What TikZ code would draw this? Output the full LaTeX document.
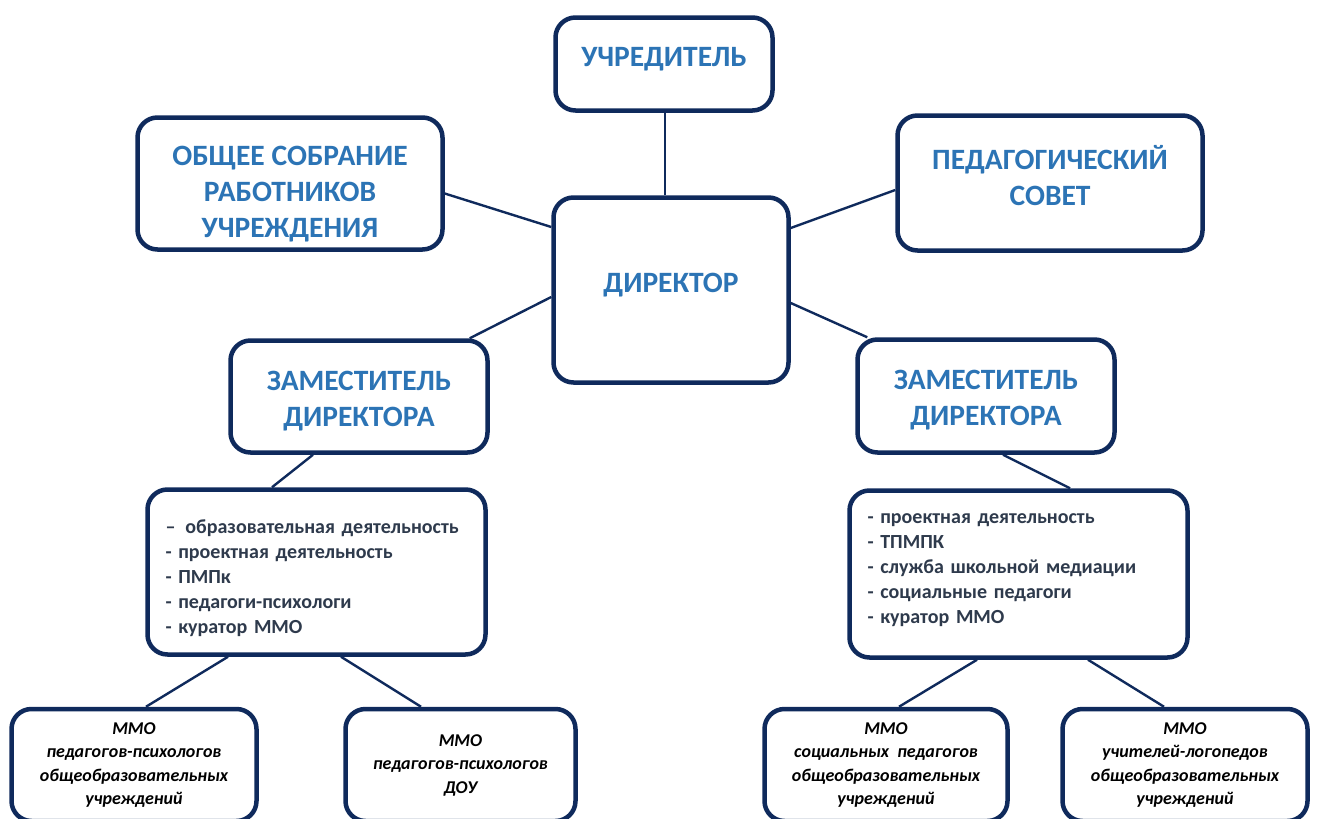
\documentclass[tikz,border=0pt]{standalone}
\usepackage{fontspec}
\setmainfont{Carlito}
\definecolor{ramka}{HTML}{0F2A5C}
\definecolor{zagolovok}{HTML}{2C74B5}
\definecolor{spisok}{HTML}{2E3A4C}
% podporki dlya sdviga teksta vniz / vverkh
\newcommand{\podpVerh}[1]{\rule{0pt}{#1}}
\newcommand{\podpNiz}[1]{\rule[-#1]{0pt}{#1}}

\begin{document}
\begin{tikzpicture}[x=1pt,y=-1pt,
		box/.style={draw=ramka,line width=4.5pt,rounded corners=20pt,fill=white,inner sep=0pt,align=center},
		glav/.style={box,font=\bfseries\fontsize{29.5}{36}\selectfont,text=zagolovok},
		spis/.style={box,font=\bfseries\fontsize{20}{25}\selectfont,text=spisok,align=left,text width=302pt,inner xsep=18pt},
		mmo/.style={box,font=\bfseries\itshape\fontsize{18}{23.5}\selectfont,text=black,minimum height=112pt},
		svyaz/.style={draw=ramka,line width=2.4pt}]
			\useasboundingbox (0,0) rectangle (1320,819);

			% verkhnij uroven
			\node [glav,minimum width=217pt,minimum height=93pt] (uchr) at (664,64) {УЧРЕДИТЕЛЬ\podpNiz{14pt}};
			\node [glav,minimum width=305pt,minimum height=132pt] (sobr) at (290,183.5) {\podpVerh{40pt}ОБЩЕЕ СОБРАНИЕ\\РАБОТНИКОВ\\УЧРЕЖДЕНИЯ};
			\node [glav,minimum width=305pt,minimum height=135pt] (pedsov) at (1050,183) {ПЕДАГОГИЧЕСКИЙ\\СОВЕТ\podpNiz{15pt}};
			\node [glav,minimum width=235pt,minimum height=185pt] (dir) at (671,290) {ДИРЕКТОР\podpNiz{14pt}};

			% zamestiteli
			\node [glav,minimum width=257pt,minimum height=112pt] (zamL) at (359,396.5) {\podpVerh{28pt}ЗАМЕСТИТЕЛЬ\\ДИРЕКТОРА};
			\node [glav,minimum width=257pt,minimum height=113pt] (zamR) at (986,396) {\podpVerh{28pt}ЗАМЕСТИТЕЛЬ\\ДИРЕКТОРА};

			\node [spis,minimum height=165pt] (spisL) at (316.5,572) {\podpVerh{27pt}– \,образовательная деятельность\\- проектная деятельность\\- ПМПк\\- педагоги-психологи\\- куратор ММО};
			\node [spis,minimum height=167pt] (spisR) at (1018.5,574) {- проектная деятельность\\- ТПМПК\\- служба школьной медиации\\- социальные педагоги\\- куратор ММО\podpNiz{11pt}};

			% MMO
			\node [mmo,minimum width=245pt] (mmo1) at (134,765) {ММО\\педагогов-психологов\\общеобразовательных\\учреждений};
			\node [mmo,minimum width=230pt] (mmo2) at (460.5,765) {ММО\\педагогов-психологов\\ДОУ};
			\node [mmo,minimum width=243pt] (mmo3) at (886,765) {ММО\\социальных \ педагогов\\общеобразовательных\\учреждений};
			\node [mmo,minimum width=245pt] (mmo4) at (1185,765) {ММО\\учителей-логопедов\\общеобразовательных\\учреждений};

			\draw [svyaz] ([xshift=1pt]uchr.south) -- ([xshift=1pt]uchr.south |- dir.north);
			\draw [svyaz] ([yshift=-10pt]sobr.east) -- ([yshift=63pt]dir.west);
			\draw [svyaz] ([yshift=62pt]dir.east) -- ([yshift=-7pt]pedsov.west);
			\draw [svyaz] ([yshift=-7pt]dir.west) -- ([xshift=-20pt]zamL.north east);
			\draw [svyaz] ([yshift=-13pt]dir.east) -- ([xshift=12pt]zamR.north west);
			\draw [svyaz] ([xshift=-46pt]zamL.south) -- ([xshift=-44.5pt]spisL.north);
			\draw [svyaz] ([xshift=17pt]zamR.south) -- ([xshift=51.5pt]spisR.north);
			\draw [svyaz] ([xshift=-88.5pt]spisL.south) -- ([xshift=12pt]mmo1.north);
			\draw [svyaz] ([xshift=24.5pt]spisL.south) -- ([xshift=-39.5pt]mmo2.north);
			\draw [svyaz] ([xshift=-41.5pt]spisR.south) -- ([xshift=13pt]mmo3.north);
			\draw [svyaz] ([xshift=69.5pt]spisR.south) -- ([xshift=-21pt]mmo4.north);
		\end{tikzpicture}
\end{document}
